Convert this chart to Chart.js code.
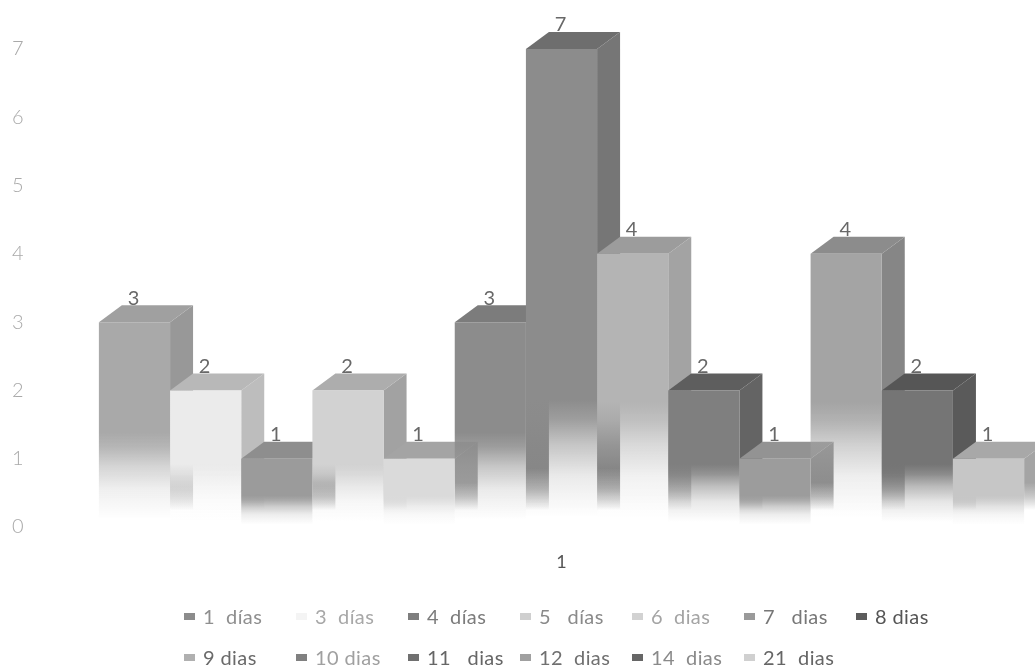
<!DOCTYPE html>
<html>
<head>
<meta charset="utf-8">
<style>html,body{margin:0;padding:0;background:#fff}#wrap{width:1035px;height:671px;position:relative}</style>
<script src="https://cdn.jsdelivr.net/npm/chart.js@4"></script>
</head>
<body>
<div id="wrap"><canvas id="c" width="1035" height="671"></canvas></div>
<script>
// Hospital stay lengths, one bar per duration
const categories = ['1'];
const seriesNames = ['1  días','3  días','4  días','5   días','6  dias','7   dias','8 dias','9 dias','10 dias','11   dias','12  dias','14  dias','21  dias'];
const seriesValues = [3,2,1,2,1,3,7,4,2,1,4,2,1];
const yTicks = [0,1,2,3,4,5,6,7];

// Face shades per series
const frontShades = ['#a9a9a9','#ebebeb','#9b9b9b','#d2d2d2','#dadada','#8c8c8c','#8c8c8c','#b4b4b4','#7f7f7f','#9c9c9c','#a4a4a4','#757575','#c6c6c6'];
const topShades   = ['#a0a0a0','#b8b8b8','#8e8e8e','#adadad','#a4a4a4','#7c7c7c','#6e6e6e','#9c9c9c','#5e5e5e','#939393','#8c8c8c','#565656','#a8a8a8'];
const sideShades  = ['#989898','#bdbdbd','#8a8a8a','#a2a2a2','#a0a0a0','#858585','#767676','#a3a3a3','#646464','#8a8a8a','#868686','#5a5a5a','#a4a4a4'];
const legendSwatches = ['#8c8c8c','#f4f4f4','#7e7e7e','#cfcfcf','#d2d2d2','#9a9a9a','#5c5c5c','#b0b0b0','#808080','#707070','#a0a0a0','#666666','#d0d0d0'];
const legendInk = ['#8f8f8f','#a8a8a8','#7c7c7c','#8a8a8a','#a4a4a4','#777777','#555555','#6a6a6a','#a0a0a0','#666666','#707070','#8a8a8a','#666666'];

const DEPTH_X = 23, DEPTH_Y = 17;
const LATO = 'Lato, Carlito, sans-serif';

function tint(hex, a) {
  const n = parseInt(hex.slice(1), 16);
  return `rgba(${n >> 16},${(n >> 8) & 255},${n & 255},${a})`;
}

// Opaque from the top, then dissolves over `run` pixels above the bottom edge
function fade(ctx, hex, top, bottom, run, curve) {
  const g = ctx.createLinearGradient(0, top, 0, bottom);
  const start = 1 - run / (bottom - top);
  g.addColorStop(0, tint(hex, 1));
  curve.forEach(([p, a]) => g.addColorStop(start + p * (1 - start), tint(hex, a)));
  return g;
}
const FRONT_CURVE = [[0,1],[0.15,0.85],[0.35,0.5],[0.6,0.18],[0.92,0],[1,0]];
const SIDE_CURVE  = [[0,1],[0.5,0.6],[1,0]];
const frontRun = h => Math.min(0.46 * h, 127);
const sideRun  = h => Math.min(0.4 * h, 42);

// Paints boxes left to right so the later ones overlap the earlier ones
const boxes = {
  id: 'boxes',
  beforeDatasetsDraw(chart) {
    const ctx = chart.ctx;
    chart.data.datasets.forEach((ds, i) => {
      const meta = chart.getDatasetMeta(i);
      const bar = meta.data[0];
      const right = bar.x + bar.width / 2, left = bar.x - bar.width / 2;
      const top = bar.y, floor = bar.base;
      ctx.save();
      ctx.fillStyle = fade(ctx, sideShades[i], top - DEPTH_Y, floor - DEPTH_Y, sideRun(floor - top), SIDE_CURVE);
      ctx.beginPath();
      ctx.moveTo(right, top);
      ctx.lineTo(right + DEPTH_X, top - DEPTH_Y);
      ctx.lineTo(right + DEPTH_X, floor - DEPTH_Y);
      ctx.lineTo(right, floor);
      ctx.closePath();
      ctx.fill();
      ctx.fillStyle = topShades[i];
      ctx.beginPath();
      ctx.moveTo(left, top);
      ctx.lineTo(left + DEPTH_X, top - DEPTH_Y);
      ctx.lineTo(right + DEPTH_X, top - DEPTH_Y);
      ctx.lineTo(right, top);
      ctx.closePath();
      ctx.fill();
      ctx.restore();
      meta.controller.draw();
    });
    return false;
  },
  afterDraw(chart) {
    const ctx = chart.ctx;
    ctx.save();
    // value labels
    ctx.font = '20px ' + LATO;
    ctx.fillStyle = '#686868';
    ctx.textAlign = 'center';
    ctx.textBaseline = 'middle';
    chart.data.datasets.forEach((ds, i) => {
      const bar = chart.getDatasetMeta(i).data[0];
      ctx.fillText(String(ds.data[0]), bar.x - 1, bar.y - 24);
    });
    // legend: two rows on a fixed column pitch
    ctx.textAlign = 'left';
    ctx.font = '20px ' + LATO;
    ctx.letterSpacing = '0.4px';
    seriesNames.forEach((name, i) => {
      const col = i < 7 ? i : i - 7;
      const x = 203 + col * 112;
      const y = i < 7 ? 618 : 659;
      ctx.fillStyle = legendSwatches[i];
      ctx.fillRect(x - 19, y - 5, 11, 7);
      ctx.fillStyle = legendInk[i];
      ctx.fillText(name, x, y);
    });
    ctx.restore();
  }
};

new Chart(document.getElementById('c'), {
  type: 'bar',
  data: {
    labels: categories,
    datasets: seriesNames.map((name, i) => ({
      label: name,
      data: [seriesValues[i]],
      backgroundColor(c) {
        const y = c.chart.scales.y;
        const top = y.getPixelForValue(seriesValues[i]), floor = y.getPixelForValue(0);
        // the scale has no pixel range yet during the first layout pass
        if (!Number.isFinite(top) || !Number.isFinite(floor)) return frontShades[i];
        return fade(c.chart.ctx, frontShades[i], top, floor, frontRun(floor - top), FRONT_CURVE);
      },
      borderWidth: 0
    }))
  },
  options: {
    responsive: false,
    animation: false,
    layout: { autoPadding: false, padding: { top: 49, left: 12, right: 0, bottom: 0 } },
    datasets: { bar: { barPercentage: 1, categoryPercentage: 0.977 } },
    plugins: { legend: { display: false }, tooltip: { enabled: false } },
    scales: {
      x: {
        grid: { display: false, drawTicks: false },
        border: { display: false },
        ticks: { padding: 24, color: '#555555', font: { family: LATO, size: 18 } },
        afterFit(s) { s.height = 144; }
      },
      y: {
        min: yTicks[0],
        max: yTicks[yTicks.length - 1],
        grid: { display: false, drawTicks: false },
        border: { display: false },
        ticks: { stepSize: 1, padding: 0, crossAlign: 'far', color: '#a9a9a9', font: { family: LATO, size: 20, weight: '300' } },
        afterFit(s) { s.width = 76; }
      }
    }
  },
  plugins: [boxes]
});
</script>
</body>
</html>
